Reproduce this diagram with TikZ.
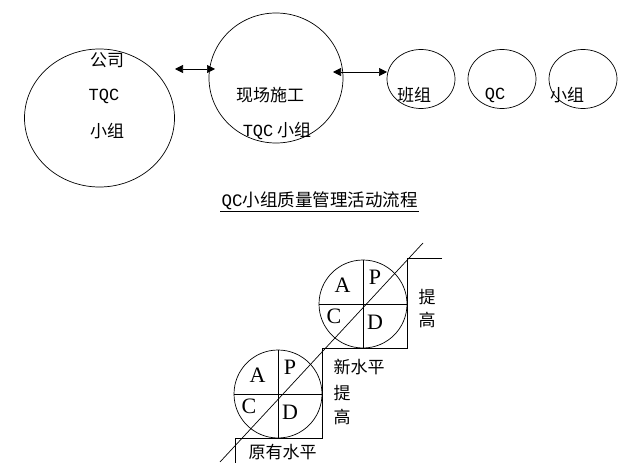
\documentclass[tikz,border=0pt]{standalone}
\usepackage{fontspec}
\setmainfont{Liberation Serif}
\setmonofont{Liberation Mono}
\newfontfamily\cjk{Noto Sans CJK SC}
\usetikzlibrary{shapes.geometric,arrows.meta}

\begin{document}
\begin{tikzpicture}[x=1pt,y=-1pt,line width=0.7pt,
    group/.style={draw,ellipse,inner sep=0pt,outer sep=0pt},
    cycle/.style={draw,circle,inner sep=0pt,outer sep=0pt,minimum size=88pt},
    zh/.style={font=\cjk\fontsize{17}{20}\selectfont,inner sep=0pt},
    latin/.style={font=\ttfamily\fontsize{17}{20}\selectfont,inner sep=0pt},
    letter/.style={font=\fontsize{22}{24}\selectfont,inner sep=0pt},
    link/.style={{Triangle[length=8pt,width=8pt]}-{Triangle[length=8pt,width=8pt]}}]
  \useasboundingbox (0,0) rectangle (638,476);
  % Groups
  \node[group,minimum width=150pt,minimum height=138pt] (company) at (99.5,118) {};
  \node[group,minimum width=134pt,minimum height=130pt] (site) at (276,78) {};
  \node[group,minimum width=68pt,minimum height=59pt] (team) at (421,79) {};
  \node[group,minimum width=68pt,minimum height=59pt] (qc) at (502,79) {};
  \node[group,minimum width=68pt,minimum height=59pt] (small) at (583,79) {};
  % Group labels
  \node[zh] (company1) at (107,60) {公司};
  \node[latin] (company2) at (104,96) {TQC};
  \node[zh] (company3) at (107,131) {小组};
  \node[zh] (site1) at (270,95) {现场施工};
  \node[zh] (site2) at (277,131) {{\ttfamily\fontsize{17}{20}\selectfont TQC} 小组};
  \node[zh] (team1) at (414,95) {班组};
  \node[latin] (qc1) at (495,95) {QC};
  \node[zh] (small1) at (567,95) {小组};
  % Links
  \coordinate (link1a) at (175,69);
  \coordinate (link1b) at (215,69);
  \coordinate (link2a) at (333,72);
  \coordinate (link2b) at (387,72);
  \draw[link] (link1a) -- (link1b);
  \draw[link] (link2a) -- (link2b);
  % Title
  \node[zh,font=\cjk\fontsize{17.5}{20}\selectfont,inner sep=1pt] (title) at (319.5,201)
    {{\ttfamily\fontsize{17.5}{20}\selectfont QC}小组质量管理活动流程};
  \draw (title.south west) -- (title.south east);
  % PDCA cycles
  \node[cycle] (low) at (278,394) {};
  \node[cycle] (high) at (363,304) {};
  \foreach \c in {low,high} {
    \draw (\c.north) -- (\c.south);
    \draw (\c.west) -- (\c.east);
    \node[letter] (\c-A) at ([shift={(-20.5,-19)}]\c.center) {A};
    \node[letter] (\c-P) at ([shift={(12,-27)}]\c.center) {P};
    \node[letter] (\c-C) at ([shift={(-29,12)}]\c.center) {C};
    \node[letter] (\c-D) at ([shift={(12,18)}]\c.center) {D};
  }
  % Diagonal and steps
  \coordinate (diagtop) at (423,243);
  \coordinate (diagbot) at (220,462);
  \draw (diagbot) -- (diagtop);
  \draw (442,258) -- (407,258) |- (322,348) |- (235,438) -- (235,463);
  % Level labels
  \node[zh] (up1) at (427,297) {提};
  \node[zh] (up2) at (427,320) {高};
  \node[zh] (new) at (359,367) {新水平};
  \node[zh] (up3) at (342,393) {提};
  \node[zh] (up4) at (342,417) {高};
  \node[zh] (old) at (282.5,452) {原有水平};
\end{tikzpicture}
\end{document}
